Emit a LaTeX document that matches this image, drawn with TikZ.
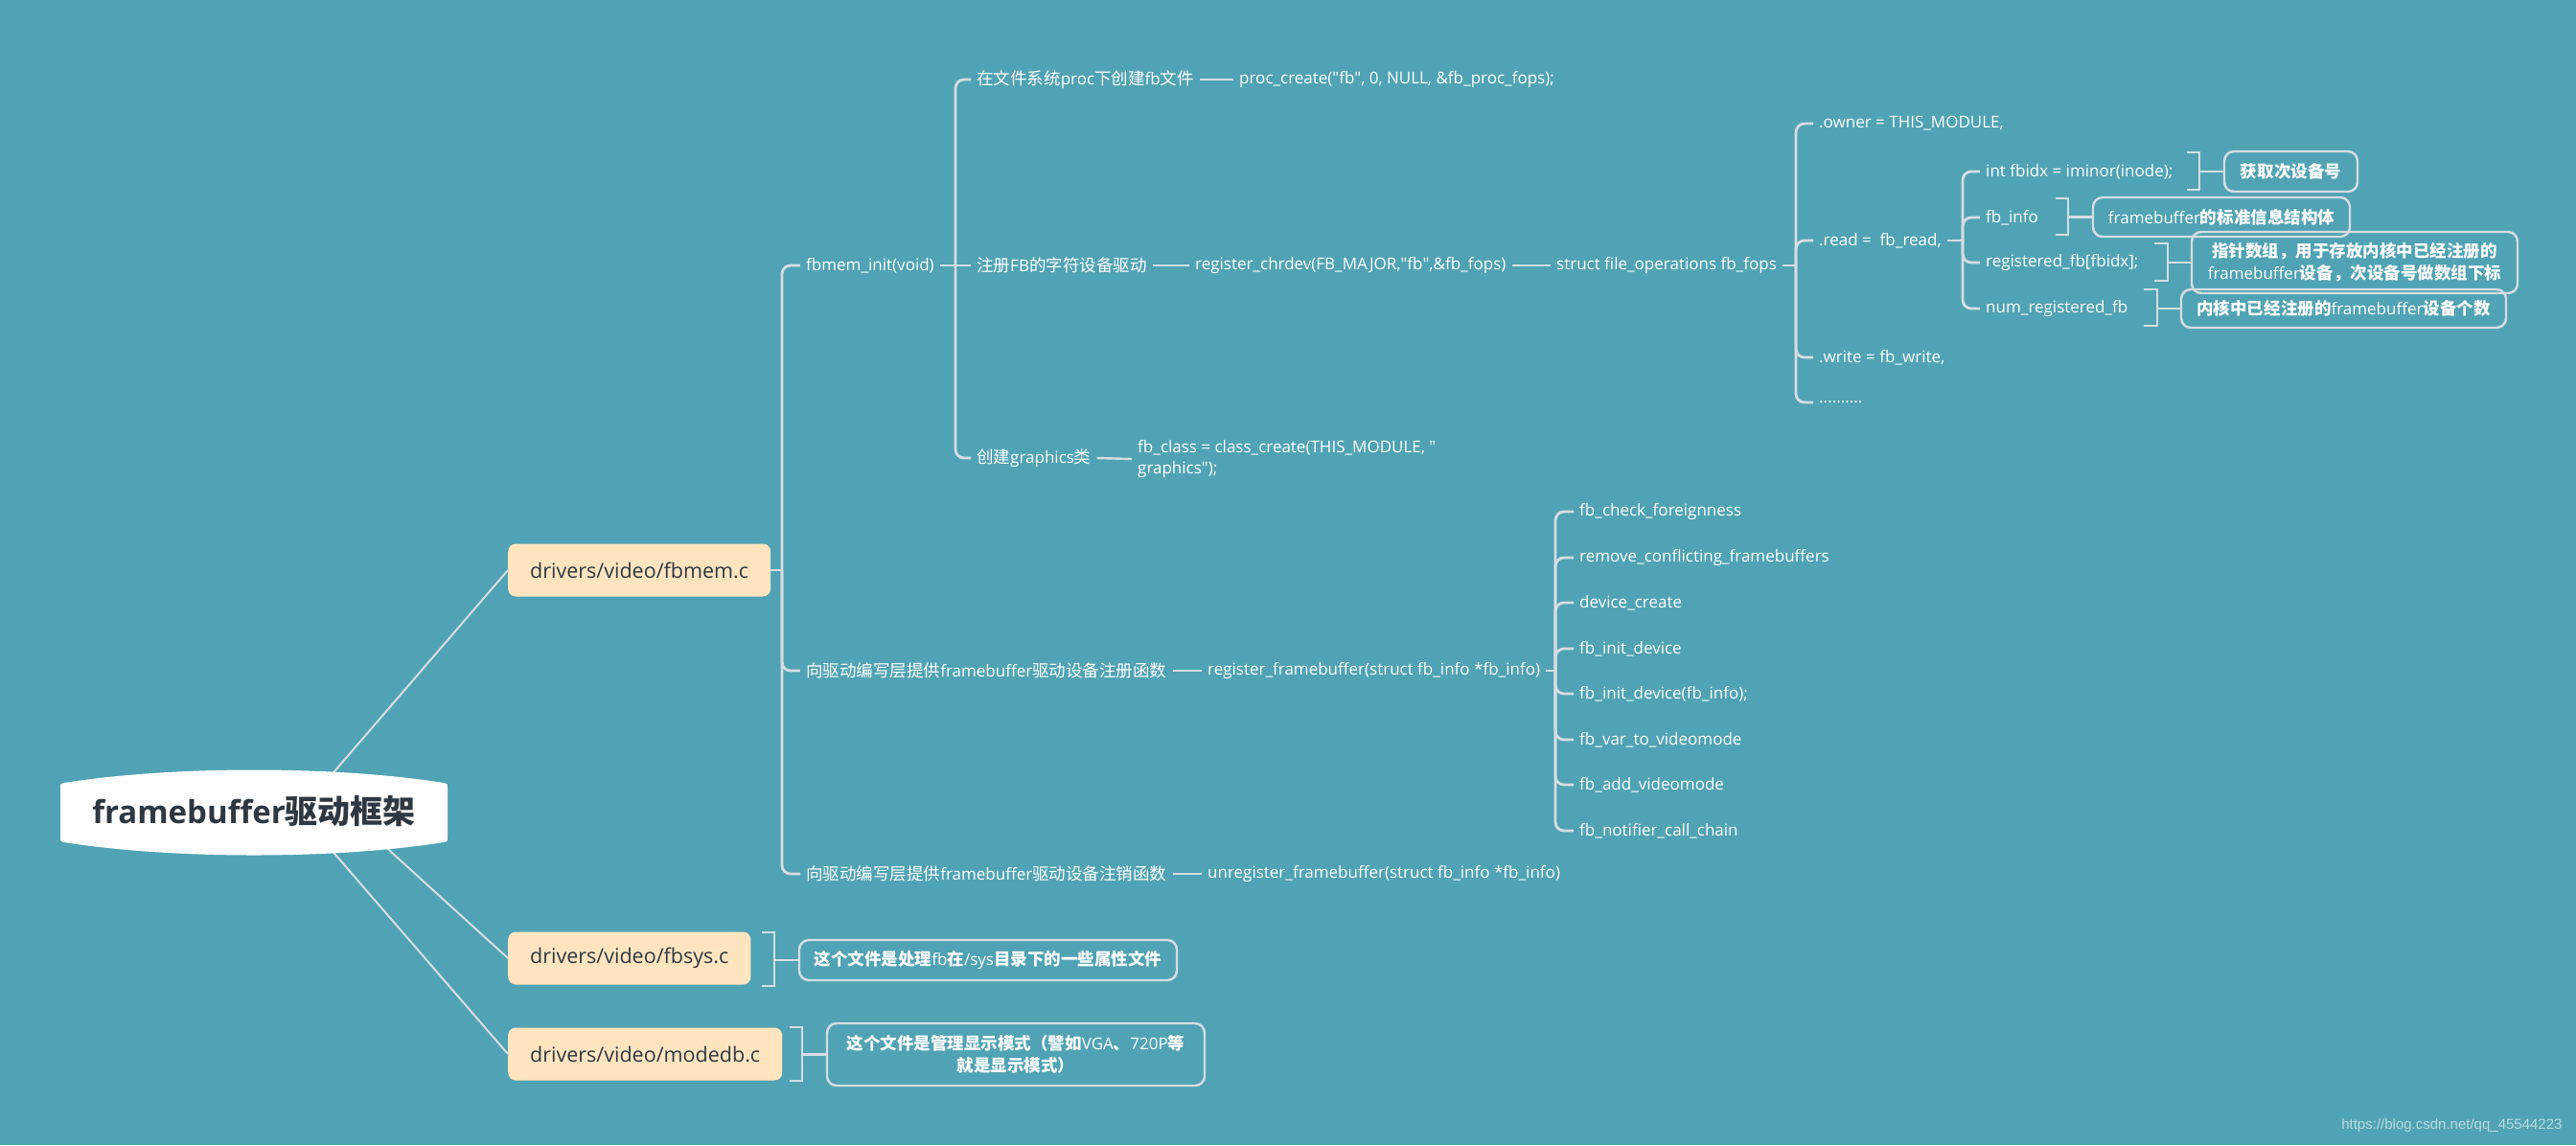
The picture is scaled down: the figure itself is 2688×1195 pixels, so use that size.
\documentclass[tikz,border=0pt]{standalone}
\usepackage{fontspec}
\setmainfont{Open Sans}
\newfontfamily\zhfont[Scale=1.03]{Noto Sans CJK SC}
\newfontfamily\wmfont{Liberation Sans}
\newfontfamily\qfont{Open Sans}
\newcommand\zh[1]{{\zhfont #1}}
\newcommand\zhb[1]{{\zhfont\bfseries #1}}
\newcommand\sq{{\qfont\char34\relax}}
\definecolor{bgc}{RGB}{80,163,180}
\definecolor{lnc}{RGB}{214,221,227}
\definecolor{pch}{RGB}{255,229,191}
\definecolor{dk}{RGB}{46,56,66}
\begin{document}
\begin{tikzpicture}[x=1pt,y=-1pt,
  br/.style={font=\fontsize{17}{22}\selectfont, text=white, inner xsep=6pt, inner ysep=3pt, anchor=west},
  lvl/.style={fill=pch, rounded corners=8pt, font=\fontsize{21.5}{26}\selectfont, text=dk, inner xsep=23pt, minimum height=55pt, anchor=west},
  conn/.style={draw=lnc, line width=2.8pt, rounded corners=9pt},
  link/.style={draw=lnc, line width=2.4pt},
  rootln/.style={draw=lnc, line width=2pt},
  brk/.style={draw=lnc, line width=2.6pt},
  note/.style={draw=lnc, line width=2.4pt, rounded corners=10pt, text=white, font=\fontsize{17}{23}\selectfont, align=center, inner sep=0pt},
]
\fill[bgc] (0,0) rectangle (2688,1195);
\useasboundingbox (0,0) rectangle (2688,1195);

% level 1
\node[lvl] (fbmem) at (530,595) {drivers/video/fbmem.c};
\node[lvl] (fbsys) at (530,1000) {drivers/video/fbsys.c};
\node[lvl] (modedb) at (530,1100) {drivers/video/modedb.c};

% root
\coordinate (rc1) at (312,848);
\coordinate (rc2) at (363,848);
\draw[rootln] (rc1) -- (fbmem.west);
\draw[rootln] (rc2) -- (fbsys.west);
\draw[rootln] (rc1) -- (modedb.west);
\fill[white] (63,822) -- (63,874) .. controls (63,878) .. (67,879)
  .. controls (180,897) and (350,897) .. (463,879)
  .. controls (467,878) .. (467,874) -- (467,822)
  .. controls (467,818) .. (463,817)
  .. controls (350,799) and (180,799) .. (67,817)
  .. controls (63,818) .. cycle;
\node[font=\fontsize{33}{40}\selectfont\bfseries, text=dk] (root) at (265,847) {framebuffer\zh{驱动框架}};

% fbmem children
\coordinate (jm) at (816,595);
\node[br] (init) at (835,277) {fbmem\_init(void)};
\node[br] (regf) at (835,700) {\zh{向驱动编写层提供}framebuffer\zh{驱动设备注册函数}};
\node[br] (unregf) at (835,912) {\zh{向驱动编写层提供}framebuffer\zh{驱动设备注销函数}};
\draw[conn] (fbmem.east) -- (jm);
\draw[conn] (jm) |- (init.west);
\draw[conn] (jm) |- (regf.west);
\draw[conn] (jm) |- (unregf.west);

% init children
\coordinate (ji) at (997,277);
\draw[conn] (init.east) -- (ji);
\node[br] (proc) at (1013,83) {\zh{在文件系统}proc\zh{下创建}fb\zh{文件}};
\node[br] (chr) at (1013,277) {\zh{注册}FB\zh{的字符设备驱动}};
\node[br] (gfx) at (1013,478) {\zh{创建}graphics\zh{类}};
\draw[conn] (ji) |- (proc.west);
\draw[conn] (ji) -- (chr.west);
\draw[conn] (ji) |- (gfx.west);

\node[br] (procc) at (1287,83) {proc\_create(\sq fb\sq, 0, NULL, \&fb\_proc\_fops);};
\draw[link] (proc.east) -- (procc.west);
\node[br] (regchr) at (1241,277) {register\_chrdev(FB\_MAJOR,\sq fb\sq,\&fb\_fops)};
\draw[link] (chr.east) -- (regchr.west);
\node[br] (fops) at (1618,277) {struct file\_operations fb\_fops};
\draw[link] (regchr.east) -- (fops.west);
\node[br, align=left] (fbclass) at (1181,479) {fb\_class = class\_create(THIS\_MODULE, \sq\\graphics\sq);};
\draw[link] (gfx.east) -- (fbclass.west);

% fops children
\coordinate (jf) at (1874,277);
\draw[conn] (fops.east) -- (jf);
\node[br] (owner) at (1892,129) {.owner = THIS\_MODULE,};
\node[br] (read) at (1892,251) {.read = \ fb\_read,};
\node[br] (write) at (1892,373) {.write = fb\_write,};
\node[br] (dots) at (1892,420) {..........};
\draw[conn] (jf) |- (owner.west);
\draw[conn] (jf) |- (read.west);
\draw[conn] (jf) |- (write.west);
\draw[conn] (jf) |- (dots.west);

% read children
\coordinate (jr) at (2048,251);
\draw[conn] (read.east) -- (jr);
\node[br] (fbidx) at (2066,179) {int fbidx = iminor(inode);};
\node[br] (fbinfo) at (2066,227) {fb\_info};
\node[br] (regfb) at (2066,274) {registered\_fb[fbidx];};
\node[br] (numfb) at (2066,322) {num\_registered\_fb};
\foreach \n in {fbidx,fbinfo,regfb,numfb} \draw[conn] (jr) |- (\n.west);

% register_framebuffer
\node[br] (regfn) at (1254,700) {register\_framebuffer(struct fb\_info *fb\_info)};
\draw[link] (regf.east) -- (regfn.west);
\node[br] (unregfn) at (1254,912) {unregister\_framebuffer(struct fb\_info *fb\_info)};
\draw[link] (unregf.east) -- (unregfn.west);
\coordinate (jg) at (1623,700);
\draw[conn] (regfn.east) -- (jg);
\foreach \i/\yy/\t in {1/534/fb\_check\_foreignness, 2/582/remove\_conflicting\_framebuffers, 3/629/device\_create, 4/677/fb\_init\_device, 5/724/fb\_init\_device(fb\_info);, 6/772/fb\_var\_to\_videomode, 7/819/fb\_add\_videomode, 8/867/fb\_notifier\_call\_chain} {
  \node[br] (f\i) at (1642,\yy) {\t};
  \draw[conn] (jg) |- (f\i.west);
}

% notes
\node[note, minimum width=139pt, minimum height=42pt] (a1) at (2390.5,179) {\zhb{获取次设备号}};
\node[note, minimum width=268pt, minimum height=41pt] (a2) at (2318,226.5) {framebuffer\zhb{的标准信息结构体}};
\node[note, minimum width=340pt, minimum height=64pt] (a3) at (2457,274) {\zhb{指针数组，用于存放内核中已经注册的}\\framebuffer\zhb{设备，次设备号做数组下标}};
\node[note, minimum width=339pt, minimum height=40pt] (a4) at (2445.5,322) {\zhb{内核中已经注册的}framebuffer\zhb{设备个数}};
\node[note, minimum width=394pt, minimum height=42pt] (a5) at (1031,1002) {\zhb{这个文件是处理}fb\zhb{在}/sys\zhb{目录下的一些属性文件}};
\node[note, minimum width=394pt, minimum height=65pt] (a6) at (1060,1100.5) {\zhb{这个文件是管理显示模式（譬如}VGA\zhb{、}720P\zhb{等}\\\zhb{就是显示模式）}};

% brackets
\draw[brk] (2282,159) -- (2295,159) -- (2295,198) -- (2282,198);
\draw[brk] (2295,179) -- (a1.west);
\draw[brk] (2145,207) -- (2158,207) -- (2158,245) -- (2145,245);
\draw[brk] (2158,226.5) -- (a2.west);
\draw[brk] (2248,254) -- (2262,254) -- (2262,293) -- (2248,293);
\draw[brk] (2262,274) -- (a3.west);
\draw[brk] (2237,302) -- (2251,302) -- (2251,340) -- (2237,340);
\draw[brk] (2251,322) -- (a4.west);
\draw[brk] (795,973) -- (808,973) -- (808,1029) -- (795,1029);
\draw[brk] (808,1002) -- (a5.west);
\draw[brk] (824,1072) -- (837,1072) -- (837,1128) -- (824,1128);
\draw[brk] (837,1100.5) -- (a6.west);

% watermark
\node[font=\wmfont\fontsize{15}{18}\selectfont, text=white, opacity=0.6, anchor=east] (wm) at (2677,1175) {https://blog.csdn.net/qq\_45544223};
\end{tikzpicture}
\end{document}
